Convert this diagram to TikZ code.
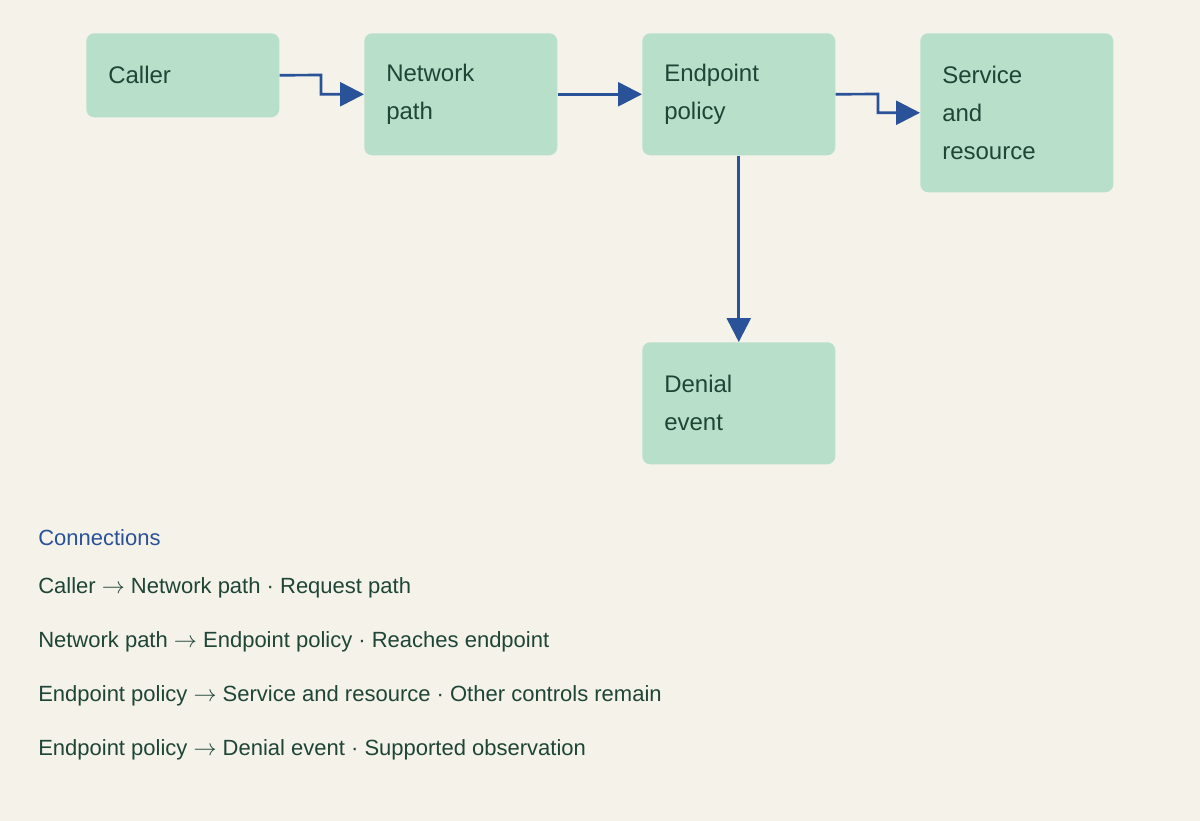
\documentclass[tikz,border=0pt]{standalone}
\usepackage{fontspec}
\setmainfont{Liberation Sans}
\usetikzlibrary{arrows.meta}
\definecolor{bg}{HTML}{F5F2EA}
\definecolor{boxc}{HTML}{B8DFC9}
\definecolor{txt}{HTML}{1E4536}
\definecolor{arr}{HTML}{2A5298}
\begin{document}
\begin{tikzpicture}[x=0.75pt,y=-0.75pt,
  box/.style={anchor=north west,fill=boxc,rounded corners=6pt,minimum width=144.75pt,
    text width=111.75pt,inner xsep=16.5pt,align=left,font=\fontsize{18}{28.5}\selectfont,text=txt},
  con/.style={draw=arr,line width=2pt,-{Triangle[length=18pt,width=18pt]}},
  leg/.style={anchor=base west,font=\fontsize{16.5}{20}\selectfont,text=txt,inner sep=0pt}]
\fill[bg] (0,0) rectangle (1200,821);
\node[box,minimum height=63pt] (caller) at (86,33) {Caller};
\node[box,minimum height=91.5pt] (net) at (364,33) {Network\\path};
\node[box,minimum height=91.5pt] (pol) at (642,33) {Endpoint\\policy};
\node[box,minimum height=119.25pt] (svc) at (920,33) {Service\\and\\resource};
\node[box,minimum height=91.5pt] (den) at (642,342) {Denial\\event};
\draw[con] (caller.east) -- (321,75) |- (net.west);
\draw[con] (net.east) -- (pol.west);
\draw[con] (pol.east) -- (878,94) |- (svc.west);
\draw[con] (pol.south) -- (den.north);
\node[leg,text=arr] (h) at (38,545) {Connections};
\node[leg] (l1) at (38,593) {Caller $\rightarrow$ Network path · Request path};
\node[leg] (l2) at (38,647) {Network path $\rightarrow$ Endpoint policy · Reaches endpoint};
\node[leg] (l3) at (38,701) {Endpoint policy $\rightarrow$ Service and resource · Other controls remain};
\node[leg] (l4) at (38,755) {Endpoint policy $\rightarrow$ Denial event · Supported observation};
\end{tikzpicture}
\end{document}
